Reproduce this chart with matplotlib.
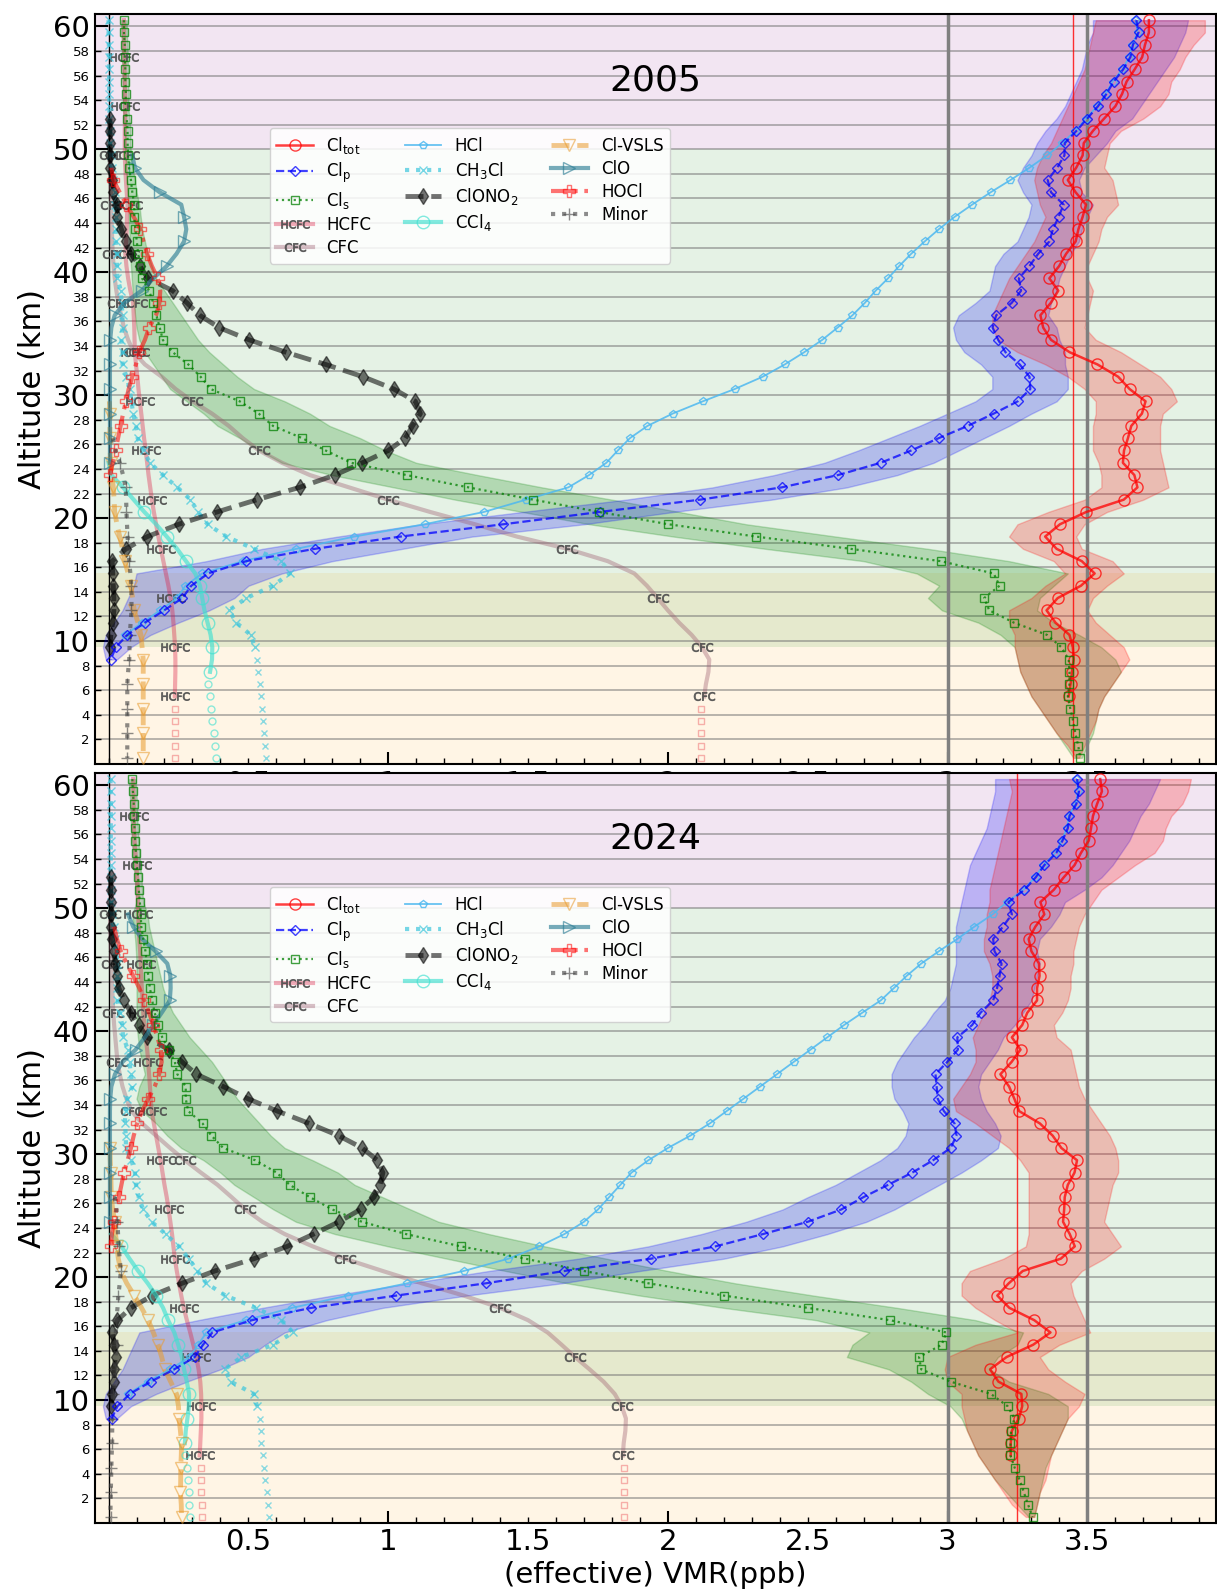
import numpy as np
import matplotlib
matplotlib.use('Agg')
import matplotlib.pyplot as plt
from matplotlib.colors import to_rgba
from matplotlib.ticker import MultipleLocator, FixedLocator, FuncFormatter

# ---------------------------------------------------------------- 2005 profiles
# every list runs downwards from its first altitude in 1 km steps
cltot_05 = [3.72, 3.72, 3.706, 3.696, 3.669, 3.64, 3.624, 3.60, 3.56, 3.52,       # 60.5
            3.487, 3.483, 3.46, 3.43, 3.458, 3.495, 3.483, 3.468, 3.458, 3.424,
            3.399, 3.364, 3.396, 3.369, 3.332, 3.342, 3.37, 3.436, 3.536, 3.61,
            3.651, 3.708, 3.695, 3.657, 3.645, 3.631, 3.627, 3.668, 3.679, 3.63,
            3.496, 3.402, 3.349, 3.39, 3.48, 3.526, 3.477, 3.394, 3.354, 3.386,
            3.436, 3.448, 3.451, 3.445, 3.44, 3.433]
tot_lo_05 = [3.53, 3.52, 3.51, 3.50, 3.49, 3.47, 3.45, 3.43, 3.41, 3.39,          # 60.5
             3.37, 3.34, 3.32, 3.31, 3.32, 3.33, 3.35, 3.33, 3.31, 3.28,
             3.25, 3.22, 3.20, 3.18, 3.16, 3.16, 3.18, 3.25, 3.35, 3.43,
             3.49, 3.53, 3.53, 3.52, 3.52, 3.52, 3.54, 3.55, 3.55, 3.49,
             3.36, 3.25, 3.22, 3.27, 3.38, 3.42, 3.35, 3.30, 3.22, 3.22,
             3.24, 3.24, 3.25, 3.26, 3.28, 3.30, 3.33, 3.36, 3.39, 3.43, 3.46]
tot_hi_05 = [3.92, 3.92, 3.88, 3.85, 3.83, 3.80, 3.79, 3.76, 3.70, 3.62,
             3.58, 3.57, 3.56, 3.59, 3.60, 3.61, 3.57, 3.55, 3.54, 3.52,
             3.50, 3.50, 3.52, 3.51, 3.50, 3.49, 3.53, 3.62, 3.69, 3.76,
             3.80, 3.82, 3.77, 3.76, 3.76, 3.76, 3.77, 3.78, 3.79, 3.70,
             3.57, 3.49, 3.46, 3.48, 3.59, 3.63, 3.57, 3.52, 3.50, 3.53,
             3.58, 3.63, 3.65, 3.62, 3.59, 3.56, 3.54, 3.53, 3.51, 3.49, 3.47]
clp_05 = [3.675, 3.683, 3.663, 3.654, 3.628, 3.594, 3.568, 3.538, 3.499, 3.461,   # 60.5
          3.419, 3.418, 3.392, 3.358, 3.37, 3.415, 3.397, 3.377, 3.364, 3.324,
          3.293, 3.255, 3.263, 3.229, 3.174, 3.161, 3.181, 3.207, 3.258, 3.293,
          3.296, 3.251, 3.165, 3.072, 2.968, 2.87, 2.761, 2.608, 2.407, 2.115,
          1.756, 1.412, 1.044, 0.737, 0.493, 0.356, 0.296, 0.264, 0.199, 0.13,
          0.067, 0.026, 0.008]
clp_lo_05 = [3.52, 3.52, 3.50, 3.49, 3.48, 3.46, 3.44, 3.42, 3.39, 3.35,
             3.32, 3.30, 3.27, 3.25, 3.27, 3.30, 3.29, 3.27, 3.25, 3.20,
             3.17, 3.16, 3.15, 3.10, 3.04, 3.02, 3.03, 3.06, 3.12, 3.16,
             3.16, 3.10, 3.00, 2.90, 2.79, 2.68, 2.56, 2.38, 2.16, 1.85,
             1.48, 1.12, 0.82, 0.55, 0.35, 0.10, 0.09, 0.07, 0.05, 0.02,
             -0.01, -0.02, -0.01]
clp_hi_05 = [3.86, 3.85, 3.83, 3.81, 3.78, 3.75, 3.72, 3.69, 3.66, 3.60,
             3.57, 3.53, 3.49, 3.47, 3.48, 3.52, 3.50, 3.48, 3.47, 3.44,
             3.42, 3.40, 3.39, 3.37, 3.36, 3.39, 3.40, 3.42, 3.42, 3.43,
             3.43, 3.39, 3.30, 3.22, 3.13, 3.04, 2.95, 2.82, 2.64, 2.37,
             2.02, 1.70, 1.30, 1.05, 0.80, 0.62, 0.50, 0.45, 0.36, 0.25,
             0.15, 0.08, 0.03]
cls_05 = [0.055, 0.055, 0.058, 0.058, 0.06, 0.06, 0.062, 0.06, 0.065, 0.068,      # 60.5
          0.068, 0.07, 0.073, 0.08, 0.085, 0.092, 0.092, 0.096, 0.101, 0.106,
          0.113, 0.12, 0.145, 0.16, 0.171, 0.183, 0.194, 0.229, 0.285, 0.329,
          0.365, 0.469, 0.537, 0.588, 0.693, 0.776, 0.868, 1.066, 1.287, 1.519,
          1.755, 2.002, 2.315, 2.654, 2.975, 3.165, 3.186, 3.131, 3.149, 3.237,
          3.356, 3.407, 3.433, 3.436, 3.436, 3.43, 3.439, 3.449, 3.457, 3.467, 3.475]
cls_lo_05 = [0.045, 0.045, 0.048, 0.048, 0.05, 0.05, 0.052, 0.05, 0.055, 0.058,
             0.058, 0.06, 0.062, 0.065, 0.068, 0.07, 0.072, 0.074, 0.076, 0.078,
             0.08, 0.083, 0.086, 0.09, 0.095, 0.10, 0.11, 0.13, 0.16, 0.19,
             0.22, 0.28, 0.34, 0.39, 0.47, 0.54, 0.62, 0.80, 1.02, 1.24,
             1.48, 1.72, 2.02, 2.35, 2.70, 2.89, 2.97, 2.93, 2.98, 3.11,
             3.19, 3.24, 3.25, 3.26, 3.28, 3.30, 3.33, 3.36, 3.39, 3.42, 3.45]
cls_hi_05 = [0.065, 0.065, 0.068, 0.068, 0.07, 0.07, 0.072, 0.07, 0.075, 0.078,
             0.078, 0.08, 0.085, 0.095, 0.10, 0.11, 0.115, 0.12, 0.13, 0.14,
             0.155, 0.17, 0.20, 0.23, 0.26, 0.29, 0.32, 0.36, 0.41, 0.46,
             0.52, 0.63, 0.72, 0.79, 0.90, 0.99, 1.10, 1.32, 1.55, 1.80,
             2.04, 2.28, 2.60, 2.93, 3.22, 3.43, 3.38, 3.33, 3.32, 3.38,
             3.47, 3.55, 3.60, 3.62, 3.59, 3.56, 3.54, 3.53, 3.52, 3.50, 3.48]
hcl_05 = [3.672, 3.68, 3.66, 3.65, 3.625, 3.59, 3.565, 3.535, 3.495, 3.457,      # 60.5
          3.41, 3.356, 3.293, 3.225, 3.154, 3.088, 3.025, 2.969, 2.918, 2.87,
          2.827, 2.787, 2.743, 2.704, 2.66, 2.607, 2.552, 2.488, 2.418, 2.339,
          2.239, 2.125, 2.017, 1.927, 1.864, 1.821, 1.78, 1.718, 1.644, 1.493,
          1.342, 1.13, 0.879, 0.671, 0.48, 0.335, 0.275, 0.245, 0.185, 0.12,
          0.06]
clono2_05 = [0.005, 0.005, 0.005, 0.005, 0.006, 0.011, 0.017, 0.029, 0.032, 0.046,  # 52.5
             0.061, 0.08, 0.112, 0.141, 0.229, 0.281, 0.326, 0.395, 0.503, 0.633,
             0.776, 0.91, 1.02, 1.097, 1.115, 1.087, 1.061, 1.0, 0.908, 0.809,
             0.683, 0.531, 0.388, 0.251, 0.139, 0.062, 0.013, 0.015, 0.017, 0.019,
             0.019, 0.015, 0.008, 0.005]
clo_05 = [0.085, 0.094, 0.125, 0.183, 0.26, 0.27, 0.278, 0.27, 0.243, 0.208,     # 49.5
          0.16, 0.118, 0.057, 0.022, 0.01, 0.006, 0.005, 0.005, 0.005, 0.005,
          0.005, 0.005, 0.005, 0.005, 0.005, 0.005]
hocl_05 = [0.01, 0.017, 0.04, 0.064, 0.09, 0.114, 0.125, 0.138, 0.155, 0.176,    # 48.5
           0.185, 0.182, 0.17, 0.145, 0.13, 0.11, 0.098, 0.085, 0.072, 0.062,
           0.052, 0.043, 0.034, 0.025, 0.015, 0.005]
ch3cl_05 = [0.0, 0.0, 0.001, 0.001, 0.002, 0.002, 0.002, 0.003, 0.003, 0.004,    # 60.5
            0.005, 0.008, 0.012, 0.016, 0.022, 0.024, 0.025, 0.026, 0.025, 0.03,
            0.03, 0.032, 0.044, 0.047, 0.05, 0.05, 0.046, 0.05, 0.05, 0.064,
            0.076, 0.082, 0.088, 0.098, 0.104, 0.125, 0.148, 0.195, 0.246, 0.293,
            0.32, 0.354, 0.421, 0.52, 0.618, 0.648, 0.588, 0.493, 0.431, 0.457,
            0.508, 0.523]
ch3cl_low_05 = [0.531, 0.535, 0.54, 0.544, 0.549, 0.552, 0.556, 0.561, 0.564]   # 8.5
ccl4_05 = [0.0, 0.01, 0.052, 0.09, 0.128, 0.17, 0.208, 0.245, 0.277, 0.31,       # 24.5
           0.327, 0.335, 0.343, 0.354, 0.365, 0.371, 0.37, 0.363]
ccl4_low_05 = [0.356, 0.362, 0.368, 0.371, 0.376, 0.382, 0.386]                  # 6.5
vsls_05 = [0.003, 0.005, 0.005, 0.005, 0.006, 0.007, 0.012, 0.017, 0.02, 0.022,  # 29.5
           0.03, 0.04, 0.05, 0.058, 0.07, 0.08, 0.086, 0.092, 0.105, 0.116,
           0.12, 0.124, 0.124, 0.124, 0.124, 0.124, 0.124, 0.124, 0.124, 0.124]
minor_05 = [0.015, 0.025, 0.04, 0.052, 0.061, 0.063, 0.064, 0.066, 0.068, 0.071,  # 26.5
            0.074, 0.078, 0.082, 0.082, 0.082, 0.079, 0.076, 0.075, 0.074, 0.07,
            0.067, 0.067, 0.067, 0.067, 0.067, 0.067, 0.067]
hcfc_05 = [0.055, 0.055, 0.056, 0.057, 0.057, 0.058, 0.059, 0.06, 0.059, 0.058,  # 60.5
           0.058, 0.058, 0.06, 0.062, 0.065, 0.068, 0.066, 0.065, 0.063, 0.06,
           0.064, 0.07, 0.078, 0.088, 0.09, 0.092, 0.093, 0.094, 0.098, 0.103,
           0.107, 0.112, 0.117, 0.122, 0.127, 0.133, 0.138, 0.143, 0.149, 0.155,
           0.162, 0.17, 0.178, 0.187, 0.196, 0.205, 0.214, 0.222, 0.228, 0.232,
           0.235, 0.238, 0.239, 0.239, 0.238, 0.237]
hcfc_low_05 = [0.237, 0.237, 0.237, 0.237, 0.237]                                # 4.5
cfc_05 = [0.005, 0.006, 0.007, 0.008, 0.01, 0.01, 0.012, 0.013, 0.015, 0.018,    # 49.5
          0.022, 0.028, 0.035, 0.045, 0.055, 0.07, 0.09, 0.13, 0.19, 0.24,
          0.30, 0.37, 0.43, 0.48, 0.538, 0.62, 0.72, 0.86, 1.0, 1.15,
          1.31, 1.46, 1.64, 1.785, 1.88, 1.925, 1.963, 2.0, 2.04, 2.085,
          2.122, 2.148, 2.145, 2.136, 2.13]
cfc_low_05 = [2.12, 2.12, 2.12, 2.12, 2.12]                                      # 4.5

# ---------------------------------------------------------------- 2024 profiles
cltot_24 = [3.546, 3.552, 3.535, 3.52, 3.513, 3.505, 3.477, 3.454, 3.415, 3.38,   # 60.5
            3.332, 3.346, 3.314, 3.29, 3.30, 3.327, 3.329, 3.32, 3.32, 3.285,
            3.267, 3.23, 3.261, 3.229, 3.189, 3.22, 3.239, 3.256, 3.33, 3.376,
            3.407, 3.463, 3.454, 3.43, 3.419, 3.417, 3.413, 3.437, 3.455, 3.405,
            3.269, 3.219, 3.178, 3.221, 3.31, 3.368, 3.306, 3.211, 3.152, 3.182,
            3.264, 3.267, 3.255, 3.23, 3.226, 3.226]
tot_lo_24 = [3.22, 3.23, 3.22, 3.21, 3.20, 3.19, 3.18, 3.17, 3.16, 3.15,
             3.15, 3.14, 3.14, 3.13, 3.13, 3.15, 3.16, 3.16, 3.15, 3.13,
             3.11, 3.09, 3.10, 3.10, 3.08, 3.05, 3.02, 3.03, 3.10, 3.16,
             3.22, 3.26, 3.29, 3.29, 3.29, 3.29, 3.29, 3.29, 3.28, 3.20,
             3.08, 3.05, 3.05, 3.10, 3.17, 3.25, 3.10, 3.00, 2.99, 3.00,
             3.05, 3.05, 3.06, 3.07, 3.09, 3.11, 3.14, 3.17, 3.20, 3.23, 3.28]
tot_hi_24 = [3.87, 3.86, 3.84, 3.80, 3.78, 3.77, 3.74, 3.67, 3.61, 3.55,
             3.52, 3.49, 3.47, 3.46, 3.45, 3.45, 3.44, 3.44, 3.43, 3.41,
             3.38, 3.39, 3.44, 3.45, 3.46, 3.47, 3.49, 3.52, 3.55, 3.58,
             3.60, 3.61, 3.61, 3.59, 3.58, 3.57, 3.56, 3.59, 3.62, 3.56,
             3.48, 3.44, 3.45, 3.47, 3.49, 3.51, 3.40, 3.33, 3.36, 3.42,
             3.49, 3.47, 3.43, 3.41, 3.39, 3.37, 3.36, 3.35, 3.33, 3.32, 3.31]
clp_24 = [3.463, 3.47, 3.461, 3.436, 3.43, 3.411, 3.389, 3.346, 3.315, 3.275,    # 60.5
          3.218, 3.23, 3.198, 3.163, 3.168, 3.193, 3.186, 3.177, 3.163, 3.118,
          3.088, 3.035, 3.037, 2.999, 2.957, 2.961, 2.965, 2.987, 3.025, 3.032,
          3.011, 2.948, 2.874, 2.787, 2.699, 2.62, 2.50, 2.34, 2.17, 1.94,
          1.63, 1.35, 1.029, 0.725, 0.513, 0.371, 0.338, 0.308, 0.235, 0.151,
          0.076, 0.032, 0.011]
clp_lo_24 = [3.17, 3.17, 3.16, 3.15, 3.14, 3.12, 3.10, 3.08, 3.07, 3.06,
             3.05, 3.04, 3.03, 3.03, 3.03, 3.03, 3.02, 3.01, 2.99, 2.95,
             2.92, 2.88, 2.85, 2.82, 2.80, 2.80, 2.81, 2.84, 2.86, 2.85,
             2.82, 2.76, 2.68, 2.60, 2.50, 2.41, 2.28, 2.12, 1.93, 1.68,
             1.36, 1.08, 0.80, 0.55, 0.32, 0.11, 0.09, 0.07, 0.05, 0.02,
             -0.01, -0.02, -0.01]
clp_hi_24 = [3.76, 3.74, 3.72, 3.69, 3.67, 3.65, 3.62, 3.59, 3.55, 3.49,
             3.42, 3.40, 3.37, 3.33, 3.32, 3.33, 3.32, 3.31, 3.30, 3.27,
             3.24, 3.20, 3.18, 3.15, 3.12, 3.11, 3.12, 3.14, 3.17, 3.19,
             3.18, 3.12, 3.05, 2.97, 2.89, 2.81, 2.71, 2.57, 2.41, 2.20,
             1.90, 1.62, 1.28, 0.98, 0.78, 0.63, 0.56, 0.50, 0.40, 0.28,
             0.17, 0.08, 0.03]
cls_24 = [0.085, 0.087, 0.09, 0.09, 0.093, 0.095, 0.098, 0.101, 0.106, 0.108,    # 60.5
          0.112, 0.115, 0.117, 0.124, 0.132, 0.137, 0.142, 0.148, 0.156, 0.165,
          0.177, 0.192, 0.215, 0.237, 0.246, 0.276, 0.276, 0.285, 0.336, 0.368,
          0.41, 0.525, 0.601, 0.648, 0.72, 0.80, 0.906, 1.064, 1.26, 1.49,
          1.70, 1.93, 2.2, 2.5, 2.794, 2.996, 2.979, 2.898, 2.906, 3.011,
          3.155, 3.215, 3.239, 3.227, 3.225, 3.225, 3.24, 3.258, 3.273, 3.288, 3.304]
cls_lo_24 = [0.073, 0.075, 0.078, 0.078, 0.081, 0.083, 0.086, 0.089, 0.094, 0.096,
             0.100, 0.085, 0.090, 0.095, 0.098, 0.100, 0.100, 0.100, 0.100, 0.100,
             0.100, 0.105, 0.110, 0.120, 0.130, 0.110, 0.100, 0.120, 0.170, 0.210,
             0.26, 0.34, 0.40, 0.45, 0.52, 0.59, 0.67, 0.81, 1.00, 1.21,
             1.42, 1.64, 1.90, 2.20, 2.53, 2.72, 2.66, 2.64, 2.79, 2.87,
             2.93, 3.01, 3.05, 3.07, 3.09, 3.11, 3.14, 3.17, 3.21, 3.25, 3.29]
cls_hi_24 = [0.097, 0.099, 0.102, 0.102, 0.105, 0.107, 0.110, 0.113, 0.118, 0.120,
             0.124, 0.140, 0.145, 0.155, 0.165, 0.175, 0.185, 0.195, 0.210, 0.230,
             0.26, 0.29, 0.33, 0.37, 0.40, 0.43, 0.46, 0.50, 0.54, 0.58,
             0.63, 0.73, 0.82, 0.88, 0.98, 1.08, 1.18, 1.36, 1.56, 1.78,
             2.00, 2.24, 2.52, 2.82, 3.10, 3.27, 3.25, 3.18, 3.15, 3.22,
             3.36, 3.43, 3.43, 3.41, 3.39, 3.37, 3.35, 3.34, 3.33, 3.32, 3.31]
hcl_24 = [3.46, 3.467, 3.458, 3.433, 3.427, 3.408, 3.386, 3.343, 3.312, 3.272,   # 60.5
          3.212, 3.161, 3.096, 3.035, 2.969, 2.906, 2.854, 2.808, 2.761, 2.695,
          2.63, 2.57, 2.51, 2.45, 2.39, 2.33, 2.27, 2.21, 2.15, 2.08,
          2.0, 1.93, 1.87, 1.83, 1.79, 1.75, 1.70, 1.63, 1.54, 1.43,
          1.27, 1.068, 0.856, 0.656, 0.49, 0.35, 0.32, 0.29, 0.22, 0.14,
          0.07]
clono2_24 = [0.008, 0.007, 0.008, 0.01, 0.01, 0.014, 0.019, 0.024, 0.029, 0.037,  # 52.5
             0.056, 0.08, 0.108, 0.138, 0.215, 0.263, 0.314, 0.41, 0.499, 0.604,
             0.717, 0.823, 0.907, 0.961, 0.981, 0.971, 0.949, 0.901, 0.824, 0.733,
             0.639, 0.52, 0.38, 0.263, 0.156, 0.08, 0.032, 0.014, 0.019, 0.025,
             0.019, 0.019, 0.013, 0.01]
clo_24 = [0.07, 0.088, 0.12, 0.168, 0.21, 0.221, 0.222, 0.219, 0.19, 0.16,       # 49.5
          0.13, 0.097, 0.05, 0.023, 0.01, 0.006, 0.005, 0.005, 0.005, 0.005,
          0.005, 0.005, 0.005, 0.005, 0.005, 0.005]
hocl_24 = [0.02, 0.03, 0.044, 0.065, 0.088, 0.11, 0.128, 0.145, 0.16, 0.175,     # 48.5
           0.187, 0.19, 0.181, 0.165, 0.142, 0.12, 0.102, 0.09, 0.08, 0.068,
           0.055, 0.046, 0.037, 0.028, 0.019, 0.012, 0.008]
ch3cl_24 = [0.007, 0.007, 0.008, 0.008, 0.008, 0.008, 0.008, 0.008, 0.008, 0.008,  # 60.5
            0.009, 0.012, 0.018, 0.022, 0.028, 0.032, 0.032, 0.032, 0.032, 0.04,
            0.049, 0.052, 0.07, 0.075, 0.08, 0.085, 0.067, 0.061, 0.058, 0.062,
            0.062, 0.082, 0.094, 0.098, 0.108, 0.124, 0.154, 0.204, 0.251, 0.287,
            0.318, 0.35, 0.418, 0.526, 0.618, 0.66, 0.588, 0.475, 0.415, 0.437,
            0.519, 0.531]
ch3cl_low_24 = [0.54, 0.544, 0.546, 0.552, 0.556, 0.561, 0.565, 0.569, 0.574]   # 8.5
ccl4_24 = [0.01, 0.046, 0.075, 0.106, 0.14, 0.17, 0.195, 0.213, 0.235, 0.249,    # 23.5
           0.262, 0.27, 0.28, 0.288, 0.287, 0.282, 0.276, 0.273]
ccl4_low_24 = [0.273, 0.279, 0.285, 0.288, 0.289, 0.291]                        # 5.5
vsls_24 = [0.005, 0.006, 0.008, 0.009, 0.01, 0.015, 0.022, 0.025, 0.03, 0.035,   # 30.5
           0.044, 0.065, 0.092, 0.118, 0.142, 0.16, 0.177, 0.19, 0.201, 0.222,
           0.243, 0.25, 0.252, 0.257, 0.261, 0.26, 0.258, 0.258, 0.257, 0.26, 0.261]
minor_24 = [0.022, 0.028, 0.032, 0.034, 0.036, 0.04, 0.044, 0.04, 0.035, 0.032,  # 26.5
            0.028, 0.026, 0.029, 0.025, 0.022, 0.02, 0.017, 0.015, 0.014, 0.013,
            0.013, 0.011, 0.01, 0.009, 0.008, 0.007, 0.007]
hcfc_24 = [0.088, 0.089, 0.09, 0.09, 0.091, 0.093, 0.096, 0.1, 0.102, 0.104,     # 60.5
           0.105, 0.106, 0.108, 0.11, 0.113, 0.115, 0.117, 0.119, 0.122, 0.124,
           0.128, 0.133, 0.138, 0.142, 0.145, 0.148, 0.151, 0.154, 0.162, 0.17,
           0.178, 0.186, 0.193, 0.2, 0.208, 0.215, 0.221, 0.227, 0.232, 0.237,
           0.244, 0.252, 0.26, 0.269, 0.28, 0.292, 0.303, 0.314, 0.322, 0.328,
           0.331, 0.332, 0.332, 0.33, 0.328, 0.326]
hcfc_low_24 = [0.329, 0.329, 0.329, 0.333, 0.333]                                # 4.5
cfc_24 = [0.005, 0.006, 0.007, 0.009, 0.011, 0.012, 0.013, 0.015, 0.017, 0.02,   # 49.5
          0.024, 0.028, 0.032, 0.04, 0.05, 0.064, 0.082, 0.12, 0.17, 0.22,
          0.273, 0.33, 0.39, 0.44, 0.489, 0.55, 0.63, 0.73, 0.844, 0.98,
          1.12, 1.27, 1.4, 1.5, 1.57, 1.62, 1.668, 1.72, 1.77, 1.81,
          1.835, 1.85, 1.848, 1.842, 1.839]
cfc_low_24 = [1.842, 1.842, 1.842, 1.842, 1.842]                                 # 4.5

years = ['2005', '2024']
mean_line = [3.45, 3.25]


def z_of(top, vals):
    return top - np.arange(len(vals))


def prof(ax, top, vals, color, alpha, label=None, filled=False, mfc=None, **kw):
    c = to_rgba(color, alpha)
    face = c if filled else 'none'
    if mfc is not None:
        face = mfc
    return ax.plot(vals, z_of(top, vals), color=c, mfc=face, mec=kw.pop('mec', c), label=label, **kw)


def band(ax, top, lo, hi, color, alpha):
    ax.fill_betweenx(z_of(top, lo), lo, hi, color=color, alpha=alpha, lw=1, zorder=1.2)


def panel(ax, D, year, xred, bottom):
    ax.axhspan(0, 15.5, color='orange', alpha=0.1, lw=0, zorder=0.1)
    ax.axhspan(9.5, 50, color='green', alpha=0.1, lw=0, zorder=0.1)
    ax.axhspan(50, 61, color='purple', alpha=0.1, lw=0, zorder=0.1)

    band(ax, 60.5, D['cls_lo'], D['cls_hi'], 'green', 0.22)
    band(ax, 60.5, D['clp_lo'], D['clp_hi'], 'blue', 0.22)
    band(ax, 60.5, D['tot_lo'], D['tot_hi'], 'red', 0.22)

    ax.axvline(0, color='k', lw=1, zorder=1.5)
    ax.axvline(3, color='0.5', lw=2.5, zorder=1.5)
    ax.axvline(3.5, color='0.5', lw=2.5, zorder=1.5)
    ax.axvline(xred, color='red', lw=1, alpha=0.8, zorder=1.5)

    lab = to_rgba('0.3', 0.85)
    # main profiles (legend order)
    prof(ax, 60.5, D['cltot'], 'red', 0.75, r'Cl$_{\rm tot}$', marker='o', ms=8, lw=1.8, zorder=4)
    prof(ax, 60.5, D['clp'], 'blue', 0.75, r'Cl$_{\rm p}$', marker='D', ms=5.5, ls='--', lw=1.6, zorder=4)
    prof(ax, 60.5, D['cls'], 'green', 0.75, r'Cl$_{\rm s}$', marker='s', ms=6, ls=':', lw=1.6, zorder=4)
    prof(ax, 60.5, D['hcfc'], 'crimson', 0.35, 'HCFC', marker=r'$\mathrm{HCFC}$', ms=20,
         mfc=lab, mec=lab, mew=0.6, lw=3, markevery=D['hcfc_mk'], zorder=3)
    prof(ax, 49.5, D['cfc'], '#9c5a6e', 0.38, 'CFC', marker=r'$\mathrm{CFC}$', ms=15,
         mfc=lab, mec=lab, mew=0.6, lw=3, markevery=(0, 4), zorder=3)
    prof(ax, 60.5, D['hcl'], '#4db8f0', 0.85, 'HCl', marker='p', ms=5.5, lw=1.3, zorder=3.5)
    prof(ax, 60.5, D['ch3cl'], '#3cc6dc', 0.7, r'CH$_3$Cl', marker='x', ms=6, ls=':', lw=3, zorder=3)
    prof(ax, 52.5, D['clono2'], 'k', 0.55, r'ClONO$_2$', filled=True, marker='d', ms=8.5,
         ls='--', lw=3.5, zorder=3)
    prof(ax, D['ccl4_top'], D['ccl4'], 'turquoise', 0.65, r'CCl$_4$', marker='o', ms=9, lw=3,
         markevery=D['ccl4_mk'], zorder=3)
    prof(ax, D['vsls_top'], D['vsls'], '#e89a2c', 0.55, 'Cl-VSLS', marker='v', ms=9, ls='--',
         lw=3.5, markevery=D['vsls_mk'], zorder=3)
    prof(ax, 49.5, D['clo'], '#2f7f96', 0.65, 'ClO', marker='>', ms=8, lw=3, markevery=(1, 2), zorder=3)
    prof(ax, 48.5, D['hocl'], 'red', 0.55, 'HOCl', marker='P', ms=9, ls='-.', lw=3,
         markevery=D['hocl_mk'], zorder=3)
    prof(ax, 26.5, D['minor'], '0.25', 0.6, 'Minor', marker='+', ms=8, ls=':', lw=3,
         markevery=(2, 2), zorder=3)

    # tropospheric points shown as markers only
    prof(ax, 4.5, D['hcfc_low'], 'lightcoral', 0.6, marker='s', ms=5, ls='none', zorder=3)
    prof(ax, 4.5, D['cfc_low'], 'lightcoral', 0.6, marker='s', ms=5, ls='none', zorder=3)
    prof(ax, 8.5, D['ch3cl_low'], '#3cc6dc', 0.6, marker='x', ms=5, ls='none', zorder=3)
    prof(ax, D['ccl4_low_top'], D['ccl4_low'], 'turquoise', 0.6, marker='o', ms=5, ls='none', zorder=3)

    ax.text(0.5, 0.912, year, transform=ax.transAxes, ha='center', va='center', fontsize=26)

    ax.set_xlim(-0.05, 3.96)
    ax.set_ylim(0, 61)
    ax.yaxis.set_major_locator(FixedLocator([10, 20, 30, 40, 50, 60]))
    ax.yaxis.set_minor_locator(FixedLocator([v for v in range(2, 61, 2) if v % 10]))
    ax.yaxis.set_minor_formatter(FuncFormatter(lambda v, p: f'{v:.0f}'))
    ax.tick_params(axis='y', which='major', labelsize=21, direction='in', length=9, width=1.5)
    ax.tick_params(axis='y', which='minor', labelsize=9.5, direction='in', length=4, width=1)
    ax.grid(True, axis='y', which='both', color='0.45', alpha=0.55, lw=1.3)
    ax.set_axisbelow(True)

    ax.xaxis.set_major_locator(FixedLocator([1, 2, 3]))
    ax.xaxis.set_major_formatter(FuncFormatter(lambda v, p: f'{v:g}'))
    ax.xaxis.set_minor_locator(MultipleLocator(0.1))

    def half_labels(v, p):
        for t in (0.5, 1.5, 2.5, 3.5):
            if abs(v - t) < 1e-6:
                return f'{t:g}'
        return ''
    ax.xaxis.set_minor_formatter(FuncFormatter(half_labels))
    xpad = 3.5 if bottom else 4.2
    ax.tick_params(axis='x', which='major', labelsize=21, direction='in', length=9, width=1.5, pad=xpad)
    ax.tick_params(axis='x', which='minor', labelsize=21, direction='in', length=4, width=1, pad=xpad)
    for s in ax.spines.values():
        s.set_linewidth(1.5)

    ax.set_ylabel('Altitude (km)', fontsize=22)
    if bottom:
        ax.set_xlabel('(effective) VMR(ppb)', fontsize=21)

    ax.legend(loc='upper left', bbox_to_anchor=(0.156, 0.848), ncol=3, fontsize=12,
              handlelength=2.2, labelspacing=0.3, framealpha=0.85, borderaxespad=0)


D05 = dict(cltot=cltot_05, tot_lo=tot_lo_05, tot_hi=tot_hi_05, clp=clp_05, clp_lo=clp_lo_05,
           clp_hi=clp_hi_05, cls=cls_05, cls_lo=cls_lo_05, cls_hi=cls_hi_05, hcl=hcl_05,
           clono2=clono2_05, clo=clo_05, hocl=hocl_05, hocl_mk=(1, 2), ch3cl=ch3cl_05,
           ch3cl_low=ch3cl_low_05, ccl4=ccl4_05, ccl4_top=24.5, ccl4_mk=[2, 4, 6, 8, 10, 11, 13, 15, 17],
           ccl4_low=ccl4_low_05, ccl4_low_top=6.5, vsls=vsls_05, vsls_top=29.5, vsls_mk=(1, 2),
           minor=minor_05, hcfc=hcfc_05, hcfc_mk=(3, 4), hcfc_low=hcfc_low_05, cfc=cfc_05,
           cfc_low=cfc_low_05)
D24 = dict(cltot=cltot_24, tot_lo=tot_lo_24, tot_hi=tot_hi_24, clp=clp_24, clp_lo=clp_lo_24,
           clp_hi=clp_hi_24, cls=cls_24, cls_lo=cls_lo_24, cls_hi=cls_hi_24, hcl=hcl_24,
           clono2=clono2_24, clo=clo_24, hocl=hocl_24, hocl_mk=(2, 2), ch3cl=ch3cl_24,
           ch3cl_low=ch3cl_low_24, ccl4=ccl4_24, ccl4_top=23.5, ccl4_mk=(1, 2),
           ccl4_low=ccl4_low_24, ccl4_low_top=5.5, vsls=vsls_24, vsls_top=30.5, vsls_mk=(0, 2),
           minor=minor_24, hcfc=hcfc_24, hcfc_mk=(3, 4), hcfc_low=hcfc_low_24, cfc=cfc_24,
           cfc_low=cfc_low_24)

fig = plt.figure(figsize=(12.17, 15.96), dpi=100)
ax1 = fig.add_axes([0.0777, 0.5213, 0.9215, 0.4699])
ax2 = fig.add_axes([0.0777, 0.0457, 0.9215, 0.4700])
panel(ax1, D05, years[0], mean_line[0], False)
panel(ax2, D24, years[1], mean_line[1], True)

fig.savefig('out.png', dpi=100)
